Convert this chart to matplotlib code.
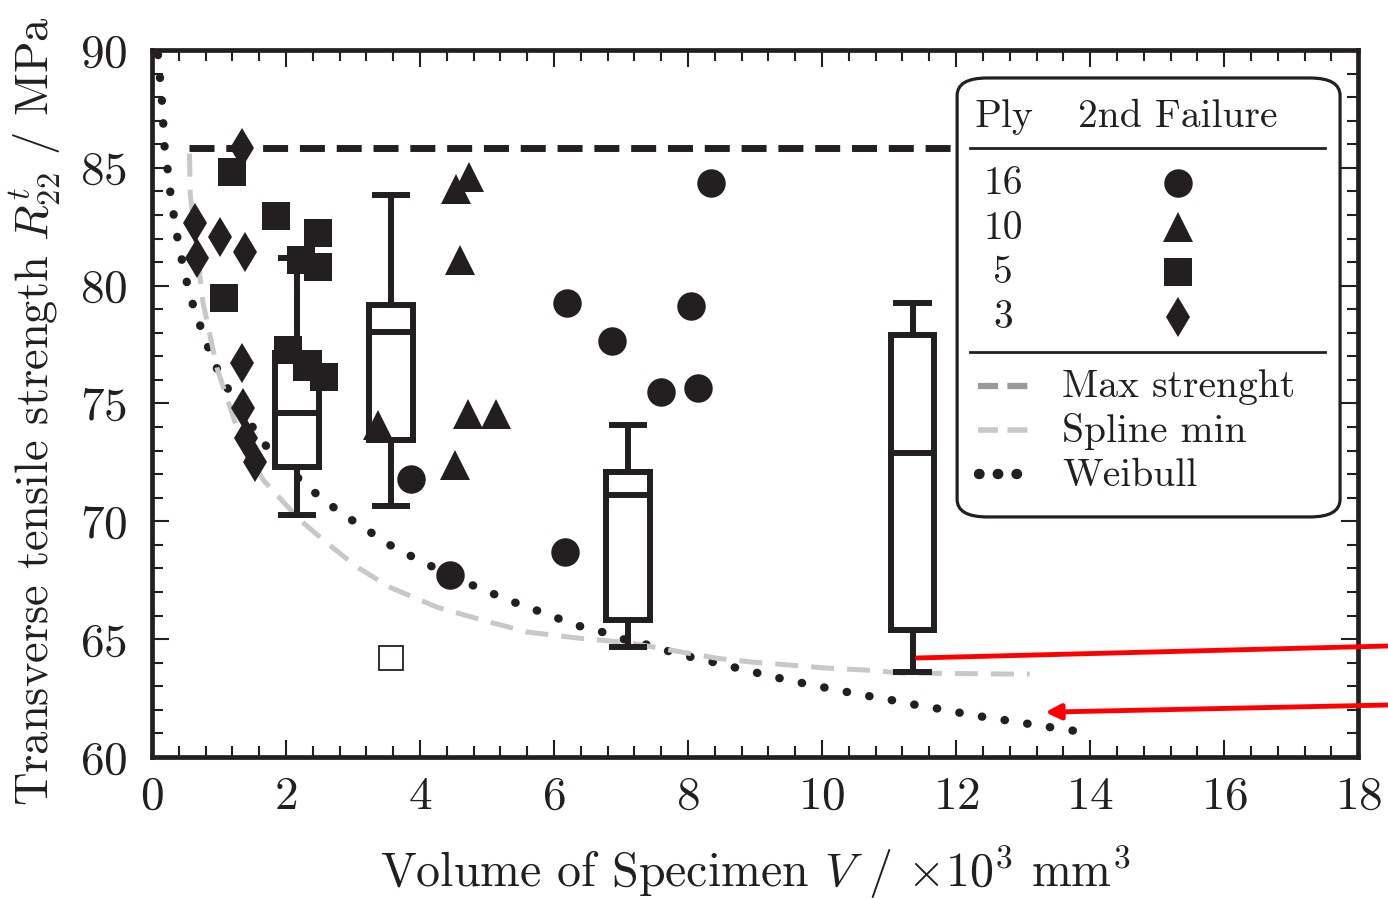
import numpy as np
import matplotlib
matplotlib.use('Agg')
import matplotlib.pyplot as plt
from matplotlib.patches import FancyBboxPatch
from matplotlib.ticker import MultipleLocator

plt.rcParams['font.family'] = 'cmr10'
plt.rcParams['mathtext.fontset'] = 'cm'
plt.rcParams['axes.formatter.use_mathtext'] = True

ink = '#231f20'

# 2nd failure points, x = volume / 1e3 mm^3, y = strength / MPa
ply16_x = [8.34, 6.19, 8.04, 6.87, 7.59, 8.15, 6.16, 3.87, 4.45]
ply16_y = [84.34, 79.25, 79.15, 77.65, 75.47, 75.64, 68.68, 71.78, 67.72]

ply10_x = [4.53, 4.73, 4.60, 4.72, 5.14, 3.38, 4.52]
ply10_y = [84.12, 84.62, 81.10, 74.55, 74.55, 74.10, 72.39]

ply5_x = [1.19, 1.85, 2.48, 1.08, 2.23, 2.48, 2.03, 2.31, 2.56]
ply5_y = [84.83, 82.97, 82.22, 79.46, 81.09, 80.80, 77.27, 76.56, 76.13]

ply3_x = [1.34, 0.64, 1.01, 1.39, 0.67, 1.35, 1.36, 1.41, 1.54]
ply3_y = [85.82, 82.64, 82.07, 81.44, 81.16, 76.70, 74.79, 73.52, 72.53]

# box plots
box_pos = [2.16, 3.57, 7.10, 11.35]
box_q1 = [72.30, 73.45, 65.81, 65.39]
box_q3 = [77.14, 79.18, 72.09, 77.90]
box_med = [74.60, 78.03, 71.12, 72.90]
box_lo = [70.27, 70.65, 64.67, 63.60]
box_hi = [81.17, 83.84, 74.09, 79.26]
box_fliers = [[], [64.20], [], []]

# curves
max_x = [0.55, 12.0]
max_y = [85.85, 85.85]

spline_x = [0.56, 0.57, 0.76, 0.97, 1.31, 1.66, 2.21, 2.61, 3.06, 3.55, 4.25, 4.94,
            5.60, 6.34, 7.13, 8.43, 8.97, 9.52, 10.07, 10.64, 11.20, 12.80, 13.10]
spline_y = [85.6, 83.9, 79.3, 76.5, 73.6, 71.75, 70.05, 69.08, 68.06, 67.2, 66.36, 65.8,
            65.3, 65.05, 64.84, 64.19, 64.02, 63.9, 63.77, 63.69, 63.56, 63.52, 63.52]

weib_x = [0.09, 0.12, 0.15, 0.19, 0.24, 0.28, 0.33, 0.39, 0.46, 0.54, 0.64, 0.76, 0.88,
          1.03, 1.21, 1.58, 1.81, 2.33, 2.61, 2.90, 3.18, 3.48, 3.78, 4.09, 4.73, 5.06,
          5.39, 5.72, 6.04, 6.37, 6.72, 7.03, 7.41, 7.73, 8.07, 8.41, 8.75, 9.10, 9.43,
          9.78, 10.12, 10.47, 10.82, 11.16, 11.50, 11.85, 12.18, 12.53, 12.87, 13.20,
          13.55, 13.90, 14.05]
weib_y = [89.8, 88.8, 87.8, 85.8, 84.8, 83.8, 82.9, 81.85, 80.9, 79.9, 78.9, 78.0, 77.05,
          76.1, 75.27, 73.66, 72.8, 71.45, 70.8, 70.2, 69.7, 69.1, 68.65, 68.2, 67.35, 66.96,
          66.58, 66.24, 65.9, 65.56, 65.3, 65.0, 64.75, 64.47, 64.22, 64.0, 63.76, 63.52, 63.3,
          63.09, 62.9, 62.7, 62.52, 62.35, 62.15, 62.0, 61.8, 61.65, 61.5, 61.35,
          61.2, 61.05, 60.98]

# red pointers (data point, figure pixel start)
red1_xy = (11.42, 64.2)
red1_from = (1388, 253)
red2_xy = (13.33, 61.9)
red2_from = (1388, 194)

fig = plt.figure(figsize=(13.88, 8.99), dpi=100)
ax = fig.add_axes([0.1095, 0.158, 0.869, 0.7864])

# weibull dotted curve
wl, = ax.plot(weib_x, weib_y, color=ink, lw=6.0, zorder=1.5,
              dash_capstyle='round', solid_capstyle='round')
wl.set_dashes((0.05, 2.7))

sl, = ax.plot(spline_x, spline_y, color='#c8c8c8', lw=3.6, zorder=1.6)
sl.set_dashes((4.6, 2.6))

ml, = ax.plot(max_x, max_y, color=ink, lw=5, zorder=2.5)
ml.set_dashes((3.6, 1.7))

stats = []
for i in range(len(box_pos)):
    stats.append(dict(med=box_med[i], q1=box_q1[i], q3=box_q3[i],
                      whislo=box_lo[i], whishi=box_hi[i], fliers=box_fliers[i]))
lw_box = 4.3
ax.bxp(stats, positions=box_pos, widths=0.65, capwidths=0.48, patch_artist=True,
       manage_ticks=False, zorder=2,
       boxprops=dict(facecolor='white', edgecolor=ink, lw=lw_box),
       whiskerprops=dict(color=ink, lw=lw_box),
       capprops=dict(color=ink, lw=lw_box),
       medianprops=dict(color=ink, lw=lw_box),
       flierprops=dict(marker='s', mfc='white', mec=ink, ms=17, mew=1.3))

ax.plot(ply16_x, ply16_y, 'o', color=ink, ms=20.5, mew=0, zorder=3)
ax.plot(ply10_x, ply10_y, '^', color=ink, ms=22, mew=0, zorder=3)
ax.plot(ply5_x, ply5_y, 's', color=ink, ms=19.5, mew=0, zorder=3)
ax.plot(ply3_x, ply3_y, 'd', color=ink, ms=20.5, mew=0, zorder=3)

ax.set_xlim(0, 18)
ax.set_ylim(60, 90)
ax.xaxis.set_major_locator(MultipleLocator(2))
ax.xaxis.set_minor_locator(MultipleLocator(0.4))
ax.yaxis.set_major_locator(MultipleLocator(5))
ax.yaxis.set_minor_locator(MultipleLocator(1))
ax.tick_params(which='both', direction='in', top=True, right=True, color=ink,
               labelcolor=ink, labelsize=34, width=1.5)
ax.tick_params(which='major', length=12)
ax.tick_params(which='minor', length=8)
ax.tick_params(axis='x', pad=14)
ax.tick_params(axis='y', pad=18)
for s in ax.spines.values():
    s.set_linewidth(3.4)
    s.set_color(ink)

ax.set_xlabel(r'Volume of Specimen $V$ / $\times10^3$ mm$^3$', fontsize=34.5, color=ink)
ax.set_ylabel(r'Transverse tensile strength $R_{22}^{t}$ / MPa', fontsize=33.5, color=ink)
ax.xaxis.set_label_coords(0.5, -0.123)
ax.yaxis.set_label_coords(-0.074, 0.49)

# legend box drawn by hand
T = ax.transAxes
box = FancyBboxPatch((0.6675, 0.3395), 0.3175, 0.6209, transform=T,
                     boxstyle='round,pad=0,rounding_size=0.025',
                     facecolor='white', edgecolor=ink, lw=2.3, zorder=10, clip_on=False)
ax.add_patch(box)
lt = dict(transform=T, fontsize=28.5, color=ink, zorder=11)
ax.text(0.6824, 0.8915, 'Ply', ha='left', va='baseline', **lt)
ax.text(0.7678, 0.8915, '2nd Failure', ha='left', va='baseline', **lt)
ax.plot([0.678, 0.9726], [0.8614, 0.8614], transform=T, color=ink, lw=2, zorder=11)
ax.plot([0.678, 0.9726], [0.5728, 0.5728], transform=T, color=ink, lw=2, zorder=11)

ply_names = ['16', '10', '5', '3']
ply_base = [0.7958, 0.7327, 0.670, 0.6064]
ply_mark = [('o', 20.5), ('^', 22), ('s', 19.5), ('d', 20.5)]
for name, yb, (mk, ms) in zip(ply_names, ply_base, ply_mark):
    ax.text(0.7056, yb, name, ha='center', va='baseline', **lt)
    ax.plot([0.8507], [yb + 0.0165], mk, color=ink, ms=ms, mew=0,
            transform=T, zorder=11, clip_on=False)

ax.text(0.7546, 0.5096, 'Max strenght', ha='left', va='baseline', **lt)
ax.text(0.7546, 0.4460, 'Spline min', ha='left', va='baseline', **lt)
ax.text(0.7546, 0.3837, 'Weibull', ha='left', va='baseline', **lt)
h1, = ax.plot([0.685, 0.7264], [0.5248, 0.5248], transform=T, color='#9a9a9a',
              lw=4.5, zorder=11)
h1.set_dashes((3.2, 1.5))
h2, = ax.plot([0.685, 0.7264], [0.4625, 0.4625], transform=T, color='#c8c8c8',
              lw=4, zorder=11)
h2.set_dashes((3.6, 1.7))
h3, = ax.plot([0.6855, 0.7264], [0.4003, 0.4003], transform=T, color=ink,
              lw=7.5, zorder=11, dash_capstyle='round')
h3.set_dashes((0.05, 1.75))

# red pointer lines
ax.annotate('', xy=red1_xy, xytext=red1_from, textcoords='figure pixels',
            annotation_clip=False,
            arrowprops=dict(arrowstyle='-', color='red', lw=3.5, shrinkA=0, shrinkB=0))
ax.annotate('', xy=red2_xy, xytext=red2_from, textcoords='figure pixels',
            annotation_clip=False,
            arrowprops=dict(arrowstyle='-|>,head_length=0.9,head_width=0.45',
                            color='red', lw=3.5, shrinkA=0, shrinkB=0))

fig.savefig('out.png', dpi=100)
